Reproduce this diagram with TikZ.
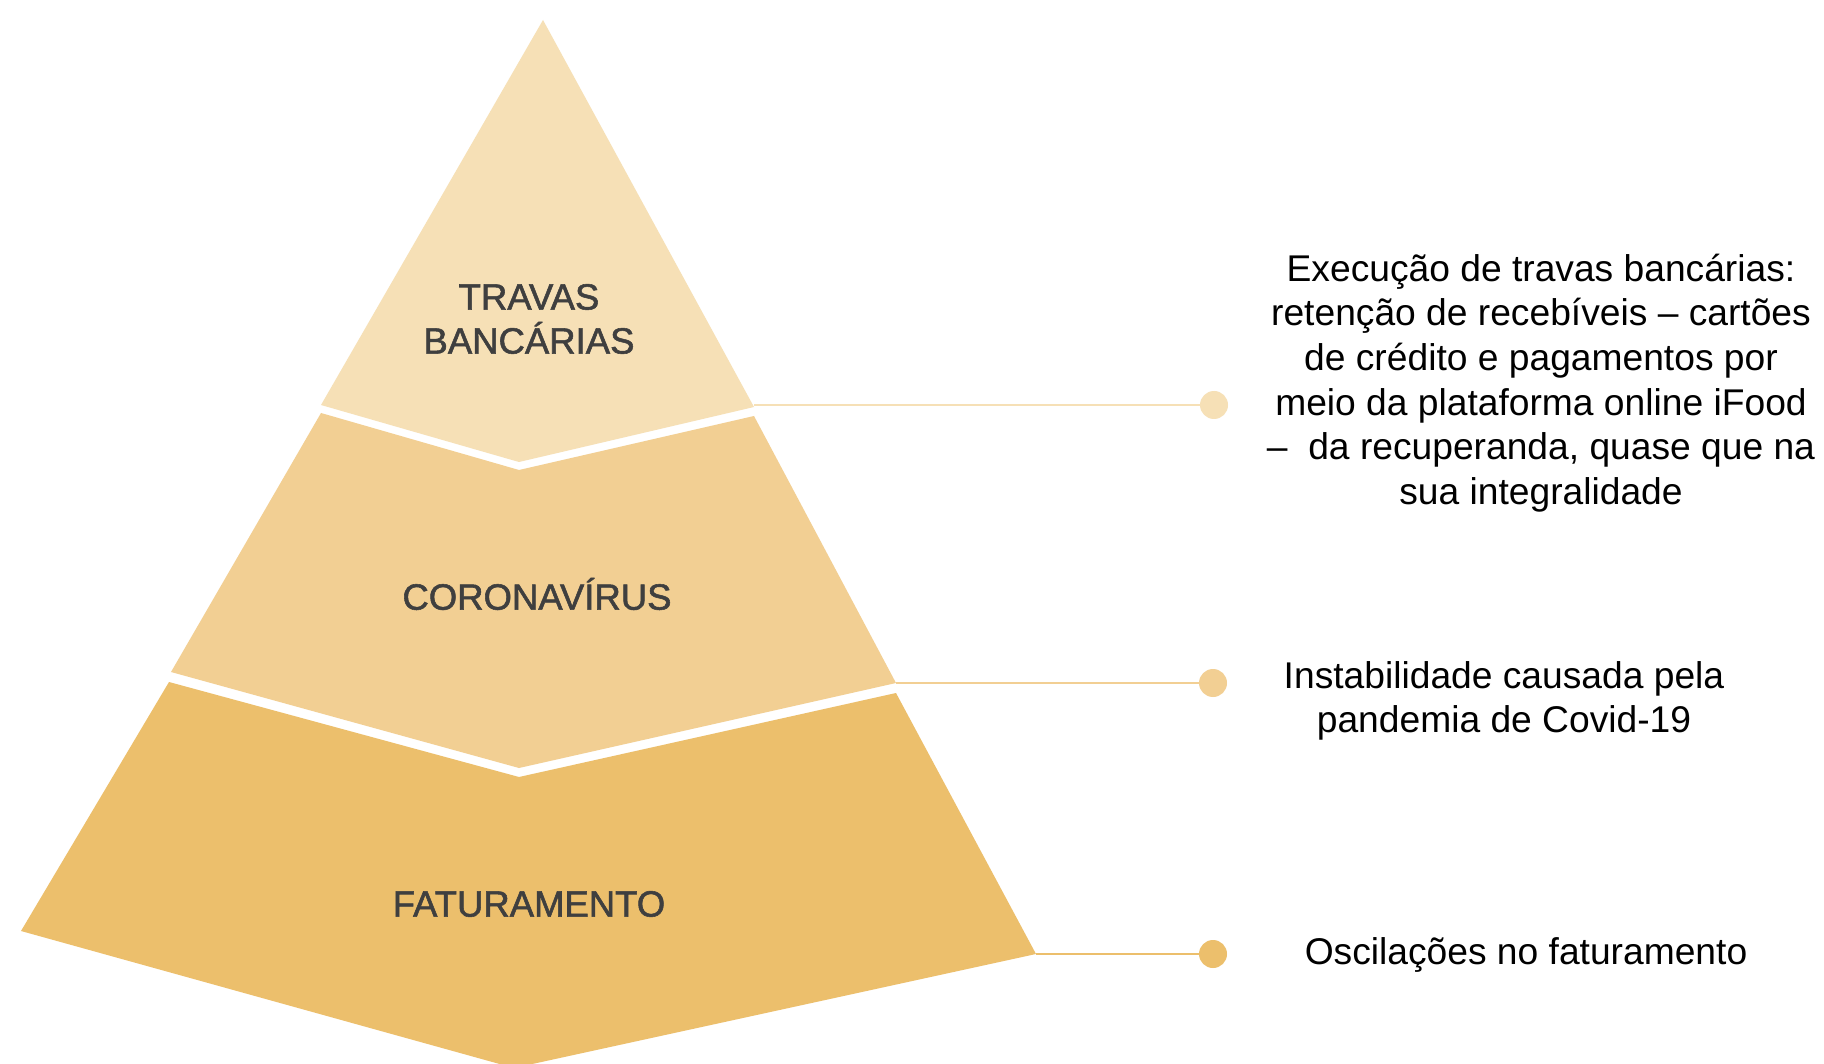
\documentclass[tikz,border=0pt]{standalone}
\usepackage{fontspec}
\setmainfont{Liberation Sans}
\newfontfamily\labelfont[FakeBold=1.5]{Liberation Sans}
\definecolor{ctop}{HTML}{F6E0B6}
\definecolor{cmid}{HTML}{F2CF93}
\definecolor{cbot}{HTML}{ECBF6C}
\definecolor{labelgray}{HTML}{3F3F3F}
\begin{document}
\begin{tikzpicture}[x=1pt,y=-1pt,
  lvl/.style={text=labelgray,font=\labelfont\fontsize{36.5}{44}\selectfont,align=center},
  desc/.style={text=black,font=\fontsize{37.2}{44.7}\selectfont,align=center},
  dot/.style={circle,inner sep=0pt,minimum size=28pt},
  link/.style={line width=2pt}]
\useasboundingbox (0,0) rectangle (1824,1064);
\fill[white] (0,0) rectangle (1824,1064);
% pyramid layers
\fill[ctop] (543,20) -- (754,407) -- (519,462) -- (321,405) -- cycle;
\fill[cmid] (321,413) -- (519,470) -- (754,416) -- (896,683) -- (519,768) -- (171,672) -- cycle;
\fill[cbot] (169,682) -- (519,777) -- (896,693) -- (1036,954) -- (514,1068) -- (21,931) -- cycle;
% labels
\node[lvl] (l1) at (529,319) {TRAVAS\\BANCÁRIAS};
\node[lvl] (l2) at (537,594) {CORONAVÍRUS};
\node[lvl] (l3) at (529,904) {FATURAMENTO};
% corner coordinates
\coordinate (c1) at (754,405);
\coordinate (c2) at (896,683);
\coordinate (c3) at (1036,954);
% dots
\node[dot,fill=ctop] (d1) at (1214,405) {};
\node[dot,fill=cmid] (d2) at (1213,683) {};
\node[dot,fill=cbot] (d3) at (1213,954) {};
\draw[link,ctop] (c1) -- (d1);
\draw[link,cmid] (c2) -- (d2);
\draw[link,cbot] (c3) -- (d3);
% descriptions
\node[desc] (t1) at (1541,383) {Execução de travas bancárias:\\retenção de recebíveis – cartões\\de crédito e pagamentos por\\meio da plataforma online iFood\\–\ \ da recuperanda, quase que na\\sua integralidade};
\node[desc] (t2) at (1504,701) {Instabilidade causada pela\\pandemia de Covid-19};
\node[desc] (t3) at (1526,955) {Oscilações no faturamento};
\end{tikzpicture}
\end{document}
